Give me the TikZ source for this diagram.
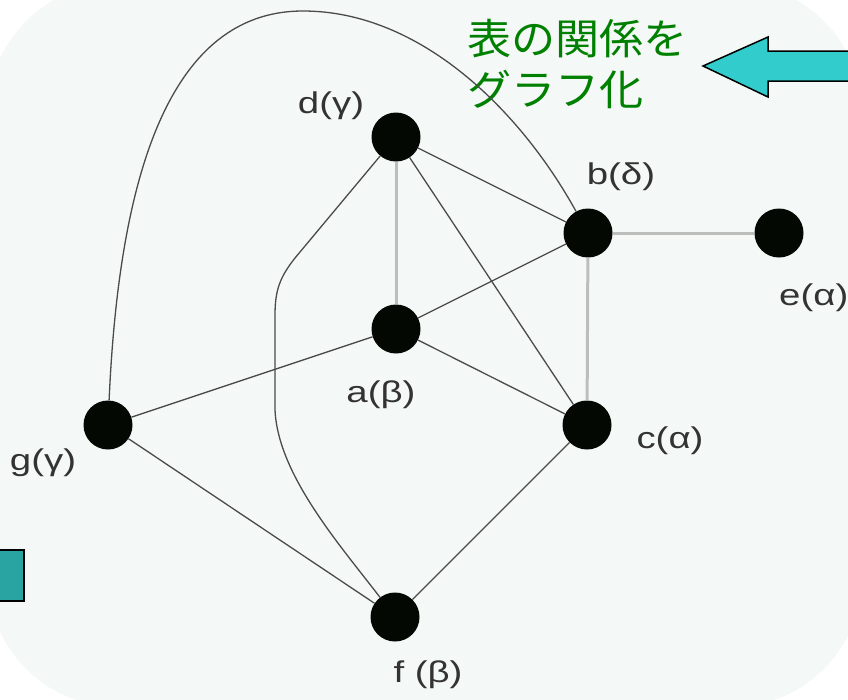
\documentclass[tikz,border=0pt]{standalone}
\usepackage{fontspec}
\setmainfont{Liberation Sans}
\newfontfamily\lblfont[FakeStretch=1.28]{Liberation Sans}
\newfontfamily\jpfont[FakeStretch=1.05]{Noto Sans CJK JP}
\definecolor{bgpanel}{RGB}{244,248,246}
\definecolor{edgedark}{RGB}{75,75,75}
\definecolor{edgelight}{RGB}{188,190,188}
\definecolor{arrowcyan}{RGB}{51,204,204}
\definecolor{boxteal}{RGB}{42,163,163}
\definecolor{jpgreen}{RGB}{0,128,0}
\definecolor{vertexblack}{RGB}{3,8,3}

\begin{document}
\begin{tikzpicture}[x=1pt, y=-1pt,
    vertex/.style={circle, fill=vertexblack, inner sep=0pt, minimum size=49pt},
    lbl/.style={font=\lblfont\fontsize{30}{30}\selectfont, text=black!80, inner sep=0pt, anchor=base},
    jptext/.style={font=\jpfont\fontsize{42}{42}\selectfont, text=jpgreen, inner sep=0pt, anchor=base west},
    thin edge/.style={draw=edgedark, line width=1.3pt},
    pale edge/.style={draw=edgelight, line width=3pt}]
    % Background
    \useasboundingbox (0,0) rectangle (848,699);
    \clip (0,0) rectangle (848,699);
    \fill[bgpanel, rounded corners=130pt] (-12,-17) rectangle (862,707);

    % Nodes
    \node[vertex] (d) at (396,137) {};
    \node[vertex] (b) at (588,233) {};
    \node[vertex] (e) at (779,233) {};
    \node[vertex] (a) at (396,329) {};
    \node[vertex] (c) at (587,425) {};
    \node[vertex] (g) at (108,425) {};
    \node[vertex] (f) at (395,617) {};

    % Vertex labels
    \node[lbl] (dl) at (331,113) {d(γ)};
    \node[lbl] (bl) at (621,184) {b(δ)};
    \node[lbl, anchor=base west] (el) at (779,305) {e(α)};
    \node[lbl] (al) at (381,402) {a(β)};
    \node[lbl] (cl) at (670,448) {c(α)};
    \node[lbl] (gl) at (43,470) {g(γ)};
    \node[lbl] (fl) at (428,682) {f (β)};

    % Caption and block arrow
    \node[jptext] (cap1) at (467,54) {表の関係を};
    \node[jptext] (cap2) at (467,105) {グラフ化};
    \draw[fill=arrowcyan, line width=1.5pt] (703,66) -- (768,37) -- (768,51) -- (870,51)
        -- (870,81) -- (768,81) -- (768,97) -- cycle;
    \draw[fill=boxteal, line width=1.5pt] (-10,550) rectangle (24,601);

    % Edges
    \draw[thin edge] (d) -- (b);
    \draw[thin edge] (d) -- (c);
    \draw[pale edge] (d) -- (a);
    \draw[pale edge] (b) -- (e);
    \draw[pale edge] (b) -- (c);
    \draw[thin edge] (a) -- (b);
    \draw[thin edge] (a) -- (c);
    \draw[thin edge] (a) -- (g);
    \draw[thin edge] (g) -- (f);
    \draw[thin edge] (c) -- (f);
    \draw[thin edge] (g) .. controls (118,200) and (160,11) .. (303,11)
        .. controls (420,11) and (520,110) .. (b);
    \draw[thin edge] (d) -- (295,258) .. controls (280,277) and (275,290) .. (275,315) -- (275,410)
        .. controls (278,475) and (340,545) .. (f);
\end{tikzpicture}
\end{document}
